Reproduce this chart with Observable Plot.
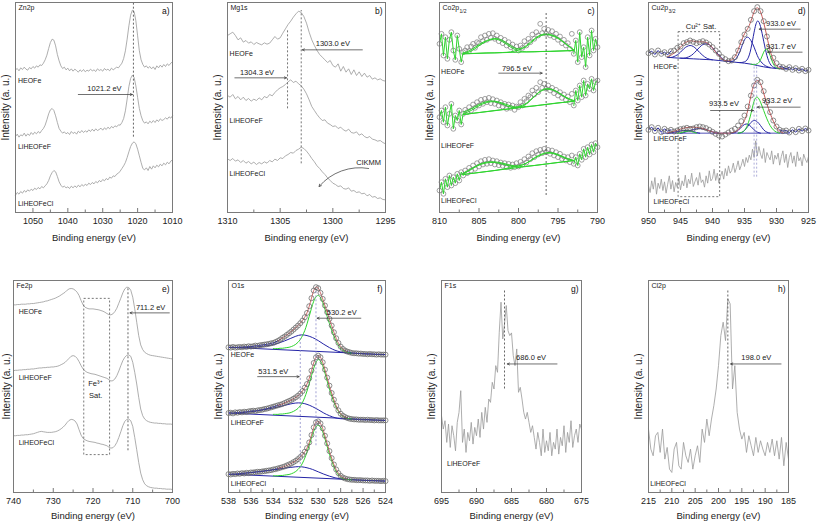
<!DOCTYPE html>
<html><head><meta charset="utf-8">
<script src="https://cdn.jsdelivr.net/npm/d3@7"></script>
<script src="https://cdn.jsdelivr.net/npm/@observablehq/plot@0.6"></script>
<style>
body{margin:0;background:#fff;}
#chart{position:relative;width:817px;height:525px;overflow:hidden;background:#fff;}
#chart svg{position:absolute;}
</style></head><body><div id="chart"></div>
<script>
// ---------- shared labels ----------
const yTitle = "Intensity (a. u.)";
const xTitle = "Binding energy (eV)";

// ---------- a) Zn2p ----------
const znGrid = [1055, 0.5];
const znHEOFe = [428,432,425,434,429,436,430,427,435,431,
438,433,440,436,443,441,448,458,472,492,
510,520,517,500,474,455,440,432,436,428,
433,425,431,424,430,426,421,428,423,429,
422,427,424,430,425,428,423,431,426,429,
424,432,427,430,425,433,428,432,436,434,
441,448,462,485,520,560,592,607,603,575,
530,485,458,444,436,440,433,438,431,437,
429,440,434,442,436,444,438,446,441,448,
452];
const znLiF = [228,235,226,233,230,238,229,236,231,240,
234,241,236,243,238,246,252,262,278,296,
308,312,306,290,270,252,244,238,242,236,
240,234,243,237,241,235,244,239,246,240,
245,241,248,243,250,244,251,246,249,253,
247,254,249,256,251,258,254,260,257,263,
262,270,282,305,340,378,402,412,405,380,
345,312,290,275,268,272,266,274,269,276,
270,278,273,281,276,279,284,280,287,283,
290];
const znLiCl = [52,60,55,63,58,66,61,68,64,70,
66,73,69,75,71,78,74,80,86,96,
110,120,126,122,108,92,82,76,79,74,
77,72,79,74,80,75,82,77,84,79,
85,81,88,84,90,86,93,89,96,92,
99,95,102,98,106,103,110,108,115,118,
124,132,140,150,165,182,198,208,212,206,
190,170,150,132,128,134,126,138,130,140,
134,142,137,145,140,148,143,151,146,154,
158];
const znTicks = [1050,1040,1030,1020,1010];
const znMinor = [1045,1035,1025,1015];
const znDash = [{x:1021.2, y1:226, y2:630}];
const znArrows = [{x1:1037, x2:1021.5, y:354}];
const znNotes = [{x:1029.5, y:371, t:"1021.2 eV"}];
const znSamples = [{x:1054.3, y:396, t:"HEOFe"},{x:1054.3, y:196, t:"LiHEOFeF"},{x:1054.3, y:26, t:"LiHEOFeCl"}];

// ---------- b) Mg1s ----------
const mgGrid = [1310, 0.25];
const mgHEOFe = [531,536,541,531,518,524,511,516,508,512,
504,510,506,503,509,505,508,518,528,520,
524,538,551,564,574,586,596,604,600,588,
568,541,518,501,486,474,466,458,450,456,
441,436,446,424,438,421,431,414,428,411,
422,408,418,406,411,400,404,398,401,396,
394];
const mgLiF = [351,346,354,341,348,338,346,336,342,334,
340,336,344,338,348,344,354,350,360,368,
374,378,384,392,398,390,394,386,380,370,
356,338,318,306,294,284,276,278,268,264,
258,260,252,256,248,244,250,240,238,242,
232,236,228,224,228,220,218,214,216,210,
206];
const mgLiCl = [161,156,162,154,158,150,156,148,153,146,
151,144,150,146,152,148,156,152,160,156,
164,162,170,174,180,178,186,190,196,192,
184,174,162,152,140,132,122,114,104,96,
88,84,78,80,72,70,74,64,66,60,
62,56,58,50,54,46,48,42,44,39,
38];
const mgTicks = [1310,1305,1300,1295];
const mgMinor = [1307.5,1302.5,1297.5];
const mgDash = [{x:1304.3, y1:311, y2:546},{x:1303.0, y1:146, y2:606}];
const mgArrows = [{x1:1297.2, x2:1302.9, y:488},{x1:1309.3, x2:1304.4, y:404}];
const mgNotes = [{x:1300.0, y:506, t:"1303.0 eV"},{x:1307.2, y:421, t:"1304.3 eV"},{x:1296.6, y:151, t:"ClKMM"}];
const mgCurved = [{x1:1296.6, y1:132, x2:1301.3, y2:78}];
const mgSamples = [{x:1309.8, y:476, t:"HEOFe"},{x:1309.8, y:276, t:"LiHEOFeF"},{x:1309.8, y:116, t:"LiHEOFeCl"}];

// ---------- c) Co2p1/2 ----------
const coGrid = [810, 0.25];
const coFitGrid = [807, 1];
const coBgGrid = [807, 14];
const coHEOFe = [506,536,471,526,461,518,541,486,458,531,
491,451,481,486,496,484,498,506,494,511,
508,526,514,531,518,536,524,538,521,531,
514,524,508,518,501,511,496,504,488,498,
486,501,494,514,501,521,511,534,521,541,
531,566,538,551,536,548,531,544,526,536,
518,528,508,518,501,508,491,536,476,516,
451,541,466,496,436,526,471,546,486,521,
496];
const coEnvH = [478,488,504,516,522,516,501,491,501,521,534,534,524,506,488];
const coBgH = [476,486];
const coC1H = [476,484,500,514,520,512,496,485,482,482,483,483,484,485,486];
const coC2H = [476,477,478,479,479,480,482,488,498,518,532,532,522,505,486];
const coLiF = [286,306,271,316,261,296,326,251,291,276,
306,264,296,308,301,316,306,324,314,331,
321,338,326,341,331,344,328,340,326,336,
321,331,318,326,311,324,314,321,308,318,
316,331,321,341,334,351,346,366,354,374,
361,391,374,386,371,381,366,374,358,368,
351,361,344,354,338,348,331,356,321,366,
336,381,346,396,351,386,371,401,366,391,
396];
const coEnvF = [301,311,324,333,334,328,320,316,326,348,368,371,361,346,336];
const coBgF = [294,334];
const coC1F = [296,306,320,330,332,325,316,316,318,320,323,326,329,331,334];
const coC2F = [294,297,300,303,306,309,312,318,328,348,366,369,360,344,334];
const coLiCl = [66,91,56,101,76,111,81,106,88,116,
96,121,111,126,118,134,126,141,131,148,
138,154,144,158,146,160,148,156,144,154,
142,150,140,148,136,146,134,144,136,148,
138,152,144,160,150,168,160,178,166,184,
174,188,178,191,181,188,176,186,171,181,
166,176,161,168,156,166,151,171,146,166,
141,176,158,191,166,196,174,204,181,208,
196];
const coEnvCl = [118,131,144,151,152,148,142,140,148,164,176,180,174,164,156];
const coBgCl = [114,156];
const coC1Cl = [116,129,142,149,150,145,139,137,139,141,144,147,150,153,156];
const coC2Cl = [114,117,120,123,126,130,135,140,148,162,174,178,172,162,156];
const coTicks = [810,805,800,795,790];
const coMinor = [807.5,802.5,797.5,792.5];
const coDash = [{x:796.5, y1:51, y2:601}];
const coArrows = [{x1:802.5, x2:797.0, y:418}];
const coNotes = [{x:800.2, y:431, t:"796.5 eV"}];
const coSamples = [{x:809.8, y:421, t:"HEOFe"},{x:809.8, y:201, t:"LiHEOFeF"},{x:809.8, y:36, t:"LiHEOFeCl"}];

// ---------- d) Cu2p3/2 ----------
const cuGrid = [950, 0.5];
const cuHEOFe = [478,484,474,486,476,481,473,484,486,494,
498,508,511,516,512,508,511,514,510,504,
496,486,476,466,460,454,456,466,486,511,
534,551,578,604,616,604,574,528,488,464,
448,438,436,431,436,428,433,426,431,424,
428];
const cuEnvH = [468,472,478,486,496,506,512,515,514,512,
512,512,510,504,494,481,470,460,456,455,
458,468,488,514,536,552,574,602,614,602,
570,528,486,458,441,434,432];
const cuBgH = [466,464,463,462,461,460,459,458,456,454,452,450,448,445,441,437,434,432,431,430];
const cuSat1H = [465,465,468,473,481,491,498,501,498,490,480,471,464,460,458];
const cuSat2H = [463,463,465,469,476,486,496,504,506,503,494,483,472,462,456,453,452];
const cuM1H = [454,453,453,458,471,494,518,526,516,496,471,454,444,438,435];
const cuM2H = [450,450,452,461,491,541,574,558,514,471,446,436,433];
const cuGH = [445,444,446,458,481,490,471,446,434,431];
const cuLiF = [248,256,244,254,241,251,244,248,243,246,
250,252,254,251,252,256,258,256,253,248,
242,236,231,228,234,240,246,251,261,274,
291,318,351,381,398,391,364,331,301,276,
258,248,244,246,240,248,241,251,244,252,
246];
const cuEnvF = [239,241,244,247,250,253,255,256,256,255,
254,252,249,245,242,239,238,238,238,238,
239,242,248,260,276,306,350,384,396,386,
358,326,298,274,256,244,240];
const cuBgF = [238,238];
const cuSatAF = [238,239,241,243,245,246,246,245,243,240,238];
const cuSatBF = [238,240,243,246,249,251,252,251,249,245,242,239,238];
const cuGsF = [238,239,242,244,244,241,238];
const cuM1F = [238,240,246,256,264,265,258,248,241,238];
const cuM2F = [238,240,246,258,270,276,272,261,248,241,238];
const cuGF = [238,240,246,264,296,334,346,331,306,281,261,248,241,238];
const cuClGrid = [950, 0.25];
const cuLiCl = [80,60,95,70,105,55,88,72,100,66,
92,58,85,110,70,96,62,90,75,104,
68,95,80,112,74,100,86,118,78,92,
105,82,120,90,98,76,110,88,125,95,
102,130,96,118,88,108,124,100,132,110,
140,118,126,148,120,135,155,128,142,160,
138,165,150,172,158,190,165,215,170,198,
175,162,192,150,180,168,158,185,145,172,
160,178,142,168,185,150,175,135,165,180,
148,170,138,182,155,165,140,175,160,150,
168];
const cuTicks = [950,945,940,935,930,925];
const cuMinor = [947.5,942.5,937.5,932.5,927.5];
const cuRect = [{x1:945.3, x2:938.8, y1:46, y2:541}];
const cuDash = [{x:933.5, y1:106, y2:446},{x:933.1, y1:106, y2:446}];
const cuArrows = [{x1:926.3, x2:932.7, y:550},{x1:926.0, x2:931.4, y:481},{x1:940.3, x2:933.6, y:306},{x1:926.3, x2:933.0, y:316}];
const cuNotes = [{x:929.3, y:566, t:"933.0 eV"},{x:929.3, y:499, t:"931.7 eV"},{x:938.2, y:326, t:"933.5 eV"},{x:929.9, y:336, t:"933.2 eV"},{x:941.8, y:558, t:"Cu²⁺ Sat."}];
const cuSamples = [{x:949.2, y:436, t:"HEOFe"},{x:949.2, y:221, t:"LiHEOFeF"},{x:949.2, y:31, t:"LiHEOFeCl"}];

// ---------- e) Fe2p ----------
const feGrid = [740, 0.5];
const feHEOFe = [562,562,563,563,564,564,564,565,565,566,
566,567,568,569,570,571,573,574,576,578,
580,582,585,588,592,596,600,606,610,611,
610,606,600,590,575,562,555,552,550,550,
550,549,548,547,545,543,540,536,533,532,
535,542,552,567,582,598,610,615,614,606,
585,550,510,470,442,428,420,416,413,411,
410,409,408,407,406,405,404,403,402,401,
400];
const feLiF = [365,366,366,367,367,368,368,369,369,370,
370,371,372,373,373,374,374,375,375,376,
376,377,378,380,383,386,390,396,402,408,
410,408,402,392,380,370,364,360,358,356,
355,354,352,350,348,346,344,342,338,334,
335,340,350,364,380,395,405,411,412,408,
390,360,325,285,250,230,220,215,212,210,
209,208,208,207,207,206,206,205,205,205,
204];
const feLiCl = [170,170,171,171,172,172,173,173,174,175,
176,178,180,182,183,182,181,180,180,180,
181,182,184,187,191,196,202,210,216,219,
218,214,205,188,172,162,158,155,153,152,
151,150,148,147,145,144,142,140,136,133,
134,140,150,165,182,200,213,219,220,215,
198,165,128,90,58,38,26,20,17,15,
14,13,13,12,12,11,11,10,10,10,
9];
const feTicks = [740,730,720,710,700];
const feMinor = [735,725,715,705];
const feRect = [{x1:722.2, x2:715.7, y1:112, y2:580}];
const feDash = [{x:711.2, y1:125, y2:615}];
const feArrows = [{x1:700.8, x2:710.7, y:538}];
const feNotes = [{x:705.5, y:555, t:"711.2 eV"},{x:719.4, y:325, t:"Fe³⁺"},{x:719.3, y:290, t:"Sat."}];
const feSamples = [{x:738.7, y:540, t:"HEOFe"},{x:738.7, y:345, t:"LiHEOFeF"},{x:738.7, y:150, t:"LiHEOFeCl"}];

// ---------- f) O1s ----------
const oGrid = [538, 0.2];
const oGreenGrid = [534, 0.2];
const oBlueGrid = [537, 0.5];
const oBgGrid = [538, 14];
const oHEOFe = [435,434,436,434,435,436,435,437,436,438,
437,438,440,439,441,442,443,444,445,447,
448,451,454,458,463,467,472,477,482,488,
494,500,507,515,525,538,558,582,605,615,
612,598,580,560,540,520,500,480,462,448,
437,430,425,422,420,418,417,417,416,416,
415,415,414,415,414,414,413,414,413,413,
413];
const oGH = [431,431,431,432,432,433,434,435,437,440,
444,450,458,470,485,505,528,552,573,586,
590,584,569,549,527,506,486,468,453,441,
432,426,422,419,418,417];
const oBH = [434,434,435,436,438,440,443,448,454,461,468,472,470,464,455,444,434,426,421,418,416];
const oBgH = [435,413];
const oLiF = [238,239,237,240,239,241,240,242,241,243,
244,245,244,246,247,248,250,251,253,255,
257,259,261,263,265,268,271,274,277,281,
285,290,296,304,314,325,342,365,388,405,
410,405,390,368,344,320,298,278,260,246,
236,230,226,223,221,220,219,219,218,218,
218,217,218,217,217,216,217,216,216,216,
216];
const oGF = [234,234,234,235,235,236,237,238,240,243,
247,252,260,270,285,304,326,350,372,390,
398,394,380,358,334,310,289,270,255,243,
234,228,224,222,221,220];
const oBF = [239,240,242,244,247,250,253,257,261,265,268,268,264,257,248,238,230,224,221,220,219];
const oBgF = [238,216];
const oLiCl = [55,54,56,55,57,56,58,57,59,58,
60,60,61,62,62,63,64,65,66,67,
69,70,72,74,76,78,81,84,87,91,
95,100,106,113,122,133,150,172,195,210,
213,207,192,170,147,124,103,84,69,58,
50,45,42,40,39,38,38,37,37,37,
36,36,36,35,36,35,35,35,34,35,
34];
const oGCl = [50,50,50,51,51,52,53,54,56,59,
63,69,77,88,103,121,142,164,183,197,
201,196,182,161,138,115,95,77,63,53,
46,42,40,39,38,38];
const oBCl = [57,58,60,62,64,66,68,70,73,75,77,77,74,69,62,55,49,44,41,39,38];
const oBgCl = [55,34];
const oTicks = [538,536,534,532,530,528,526,524];
const oMinor = [537,535,533,531,529,527,525];
const oDash = [{x:530.2, y1:140, y2:605},{x:531.6, y1:60, y2:475}];
const oArrows = [{x1:526.2, x2:530.1, y:522},{x1:535.4, x2:531.7, y:347}];
const oNotes = [{x:527.9, y:538, t:"530.2 eV"},{x:534.0, y:362, t:"531.5 eV"}];
const oSamples = [{x:537.8, y:412, t:"HEOFe"},{x:537.8, y:210, t:"LiHEOFeF"},{x:537.8, y:25, t:"LiHEOFeCl"}];

// ---------- g) F1s ----------
const fGrid = [695, 0.25];
const fLiF = [230,190,215,150,205,135,200,170,125,210,
240,305,150,190,120,180,155,210,145,195,
170,220,165,240,190,255,210,280,270,330,
310,380,360,480,570,460,505,560,485,470,
478,410,380,430,300,315,280,240,220,240,
210,180,200,165,130,180,150,110,190,120,
155,125,180,110,150,130,190,115,165,140,
200,120,180,150,215,135,170,190,150,205,
190];
const fTicks = [695,690,685,680,675];
const fMinor = [692.5,687.5,682.5,677.5];
const fDash = [{x:686.0, y1:310, y2:605}];
const fArrows = [{x1:678.5, x2:685.6, y:385}];
const fNotes = [{x:682.2, y:403, t:"686.0 eV"}];
const fSamples = [{x:694.2, y:85, t:"LiHEOFeF"}];

// ---------- h) Cl2p ----------
const clGrid = [215, 0.5];
const clLiCl = [190,130,110,170,180,120,190,100,135,70,
60,130,150,80,70,150,110,90,130,70,
110,140,90,190,150,220,170,220,260,310,
380,470,510,455,580,565,310,380,240,190,
160,180,120,170,140,110,165,120,155,130,
110,150,120,160,110,155,100,165,80,150,
100];
const clTicks = [215,210,205,200,195,190,185];
const clMinor = [212.5,207.5,202.5,197.5,192.5,187.5];
const clDash = [{x:198.0, y1:310, y2:605}];
const clArrows = [{x1:186.6, x2:197.4, y:385}];
const clNotes = [{x:191.9, y:403, t:"198.0 eV"}];
const clSamples = [{x:214.6, y:27, t:"LiHEOFeCl"}];

// ================= drawing =================
const chart = document.getElementById("chart");
const FONT = "'Liberation Sans', Arial, Helvetica, sans-serif";
const GL = "#999999", GREEN = "#2fd42f", BLUE = "#2424a6", RED = "#c85a5a";

function series(grid, vals) { return vals.map((v, i) => ({e: grid[0] - i * grid[1], v})); }
const ln = (grid, vals, stroke, extra = {}) => Plot.line(series(grid, vals), {x: "e", y: "v", stroke, strokeWidth: 0.8, ...extra});
const fit = (grid, vals, stroke) => ln(grid, vals, stroke, {curve: "natural", strokeWidth: 1});
const dashed = (arr, stroke = "#555", w = 0.9) => Plot.ruleX(arr, {x: "x", y1: "y1", y2: "y2", stroke, strokeWidth: w, strokeDasharray: "2,2"});
const arrows = (arr) => Plot.arrow(arr, {x1: "x1", x2: "x2", y1: "y", y2: "y", stroke: "#333", strokeWidth: 0.7, headLength: 5, headAngle: 50});
const notes = (arr) => Plot.text(arr, {x: "x", y: "y", text: "t", fontSize: 7.5, fill: "#222"});
const samples = (arr) => Plot.text(arr, {x: "x", y: "y", text: "t", textAnchor: "start", fontSize: 7, fill: "#222"});
const rects = (arr) => Plot.rect(arr, {x1: "x1", x2: "x2", y1: "y1", y2: "y2", fill: "none", stroke: "#555", strokeWidth: 0.8, strokeDasharray: "2,2"});

function panel(p) {
  const ml = 16, mr = 4, mt = 2, mb = 40;
  const fw = p.frame[1] - p.frame[0], fh = p.frame[3] - p.frame[2];
  const unit = (p.y[1] - p.y[0]) / fh;
  const title = [
    Plot.text([p.title], {text: d => d, frameAnchor: "top-left", dx: 3, dy: 3, fontSize: 7, fill: "#222", lineAnchor: "top", textAnchor: "start"})
  ];
  if (p.sub) title.push(Plot.text([p.sub], {text: d => d, frameAnchor: "top-left", dx: 3 + p.subDx, dy: 7, fontSize: 5, fill: "#222", lineAnchor: "top", textAnchor: "start"}));
  const svg = Plot.plot({
    width: fw + ml + mr, height: fh + mt + mb,
    marginLeft: ml, marginRight: mr, marginTop: mt, marginBottom: mb,
    x: {domain: p.domain, ticks: p.ticks, tickSize: 0, tickPadding: 5, label: null, tickFormat: d => String(d)},
    y: {domain: p.y, axis: null},
    style: {fontFamily: FONT, fontSize: "9px", color: "#222", background: "transparent", overflow: "visible"},
    marks: [
      ...p.marks,
      Plot.ruleX(p.ticks, {x: d => d, y1: p.y[0], y2: p.y[0] + 4 * unit, stroke: "#555", strokeWidth: 0.8}),
      Plot.ruleX(p.minor, {x: d => d, y1: p.y[0], y2: p.y[0] + 2.5 * unit, stroke: "#555", strokeWidth: 0.8}),
      Plot.frame({stroke: "#7a7a7a", strokeWidth: 1}),
      ...title,
      Plot.text([p.letter], {text: d => d, frameAnchor: "top-right", dx: -3, dy: 5, fontSize: 8.5, fill: "#111", lineAnchor: "top", textAnchor: "end"}),
      Plot.text([yTitle], {text: d => d, frameAnchor: "left", rotate: -90, dx: p.yDx ?? -10, fontSize: 10, fill: "#222", textAnchor: "middle", lineAnchor: "middle"}),
      Plot.text([xTitle], {text: d => d, frameAnchor: "bottom", dy: p.xDy, fontSize: 9.5, fill: "#222", textAnchor: "middle", lineAnchor: "middle"})
    ]
  });
  svg.style.left = (p.frame[0] - ml) + "px";
  svg.style.top = (p.frame[2] - mt) + "px";
  chart.append(svg);
}

// a
panel({frame: [15, 172, 2, 212], domain: [1055, 1010], y: [0, 630], ticks: znTicks, minor: znMinor, xDy: 25,
  title: "Zn2p", letter: "a)",
  marks: [
    ln(znGrid, znHEOFe, GL), ln(znGrid, znLiF, GL), ln(znGrid, znLiCl, GL),
    dashed(znDash), arrows(znArrows), notes(znNotes), samples(znSamples)
  ]});

// b
panel({frame: [227, 385, 2, 212], domain: [1310, 1295], y: [0, 630], ticks: mgTicks, minor: mgMinor, xDy: 25,
  title: "Mg1s", letter: "b)",
  marks: [
    ln(mgGrid, mgHEOFe, GL), ln(mgGrid, mgLiF, GL), ln(mgGrid, mgLiCl, GL),
    dashed(mgDash, "#666"), arrows(mgArrows), notes(mgNotes), samples(mgSamples),
    Plot.arrow(mgCurved, {x1: "x1", y1: "y1", x2: "x2", y2: "y2", bend: -30, stroke: "#333", strokeWidth: 0.7, headLength: 5})
  ]});

// c
function coSet(data, env, bg, c1, c2) {
  const pts = series(coGrid, data);
  return [
    Plot.dot(pts, {x: "e", y: "v", r: 2.4, stroke: "#7a7a7a", strokeWidth: 0.7}),
    Plot.line(pts.filter(d => d.e >= 807), {x: "e", y: "v", stroke: GREEN, strokeWidth: 1}),
    Plot.line(pts.filter(d => d.e <= 793), {x: "e", y: "v", stroke: GREEN, strokeWidth: 1}),
    ln(coBgGrid, bg, GREEN, {strokeWidth: 1}),
    fit(coFitGrid, c1, GREEN), fit(coFitGrid, c2, GREEN), fit(coFitGrid, env, GREEN)
  ];
}
panel({frame: [439, 597, 2, 212], domain: [810, 790], y: [0, 630], ticks: coTicks, minor: coMinor, xDy: 25,
  title: "Co2p", sub: "1/2", subDx: 17, letter: "c)",
  marks: [
    ...coSet(coHEOFe, coEnvH, coBgH, coC1H, coC2H),
    ...coSet(coLiF, coEnvF, coBgF, coC1F, coC2F),
    ...coSet(coLiCl, coEnvCl, coBgCl, coC1Cl, coC2Cl),
    dashed(coDash), arrows(coArrows), notes(coNotes), samples(coSamples)
  ]});

// d
function cuData(data) {
  const pts = series(cuGrid, data);
  return {
    edges: [
      Plot.line(pts.filter(d => d.e >= 946.5), {x: "e", y: "v", stroke: BLUE, strokeWidth: 1}),
      Plot.line(pts.filter(d => d.e <= 929.5), {x: "e", y: "v", stroke: BLUE, strokeWidth: 1})
    ],
    dots: Plot.dot(pts, {x: "e", y: "v", r: 2.5, stroke: "#5e5e5e", strokeWidth: 0.7})
  };
}
const cuH = cuData(cuHEOFe), cuF = cuData(cuLiF);
panel({frame: [648, 808, 2, 212], domain: [950, 925], y: [0, 630], ticks: cuTicks, minor: cuMinor, xDy: 25,
  title: "Cu2p", sub: "3/2", subDx: 17, letter: "d)",
  marks: [
    ln(cuClGrid, cuLiCl, GL),
    rects(cuRect),
    ...cuH.edges,
    fit([947, 1], cuBgH, BLUE),
    fit([947, 0.5], cuSat1H, BLUE), fit([945, 0.5], cuSat2H, BLUE),
    fit([938, 0.5], cuM1H, BLUE), fit([936, 0.5], cuM2H, BLUE), fit([934, 0.5], cuGH, GREEN),
    ...cuF.edges,
    ln([948, 20], cuBgF, BLUE),
    fit([947, 0.5], cuSatAF, BLUE), fit([945, 0.5], cuSatBF, BLUE), fit([945.5, 0.5], cuGsF, GREEN),
    fit([937, 0.5], cuM1F, BLUE), fit([936, 0.5], cuM2F, BLUE), fit([936, 0.5], cuGF, GREEN),
    fit([947, 0.5], cuEnvH, RED), fit([947, 0.5], cuEnvF, RED),
    cuH.dots, cuF.dots,
    dashed(cuDash, "#8a8ac8", 0.7), arrows(cuArrows), notes(cuNotes), samples(cuSamples)
  ]});

// e
panel({frame: [13, 172, 280, 492], domain: [740, 700], y: [0, 635], ticks: feTicks, minor: feMinor, xDy: 23, yDx: -7,
  title: "Fe2p", letter: "e)",
  marks: [
    ln(feGrid, feHEOFe, GL), ln(feGrid, feLiF, GL), ln(feGrid, feLiCl, GL),
    rects(feRect), dashed(feDash), arrows(feArrows), notes(feNotes), samples(feSamples)
  ]});

// f
function oSet(data, g, b, bg) {
  const pts = series(oGrid, data);
  return {
    lines: [
      Plot.line(pts.filter(d => d.e >= 533.4), {x: "e", y: "v", stroke: BLUE, strokeWidth: 1}),
      Plot.line(pts.filter(d => d.e <= 527.6), {x: "e", y: "v", stroke: BLUE, strokeWidth: 1}),
      ln(oBgGrid, bg, BLUE, {strokeWidth: 1}),
      fit(oBlueGrid, b, BLUE), fit(oGreenGrid, g, GREEN),
      Plot.line(pts.filter(d => d.e <= 533.6 && d.e >= 527.4), {x: "e", y: "v", stroke: RED, strokeWidth: 0.9, curve: "natural"})
    ],
    dots: Plot.dot(pts, {x: "e", y: "v", r: 2.5, stroke: "#5e5e5e", strokeWidth: 0.7})
  };
}
const oH = oSet(oHEOFe, oGH, oBH, oBgH), oF = oSet(oLiF, oGF, oBF, oBgF), oC = oSet(oLiCl, oGCl, oBCl, oBgCl);
panel({frame: [228, 385, 280, 492], domain: [538, 524], y: [0, 635], ticks: oTicks, minor: oMinor, xDy: 23,
  title: "O1s", letter: "f)",
  marks: [
    ...oH.lines, ...oF.lines, ...oC.lines,
    oH.dots, oF.dots, oC.dots,
    dashed(oDash, "#8a8ac8", 0.8), arrows(oArrows), notes(oNotes), samples(oSamples)
  ]});

// g
panel({frame: [441, 581, 280, 492], domain: [695, 675], y: [0, 635], ticks: fTicks, minor: fMinor, xDy: 23,
  title: "F1s", letter: "g)",
  marks: [ln(fGrid, fLiF, GL), dashed(fDash), arrows(fArrows), notes(fNotes), samples(fSamples)]});

// h
panel({frame: [648, 788, 280, 492], domain: [215, 185], y: [0, 635], ticks: clTicks, minor: clMinor, xDy: 23,
  title: "Cl2p", letter: "h)",
  marks: [ln(clGrid, clLiCl, GL), dashed(clDash), arrows(clArrows), notes(clNotes), samples(clSamples)]});
</script></body></html>
